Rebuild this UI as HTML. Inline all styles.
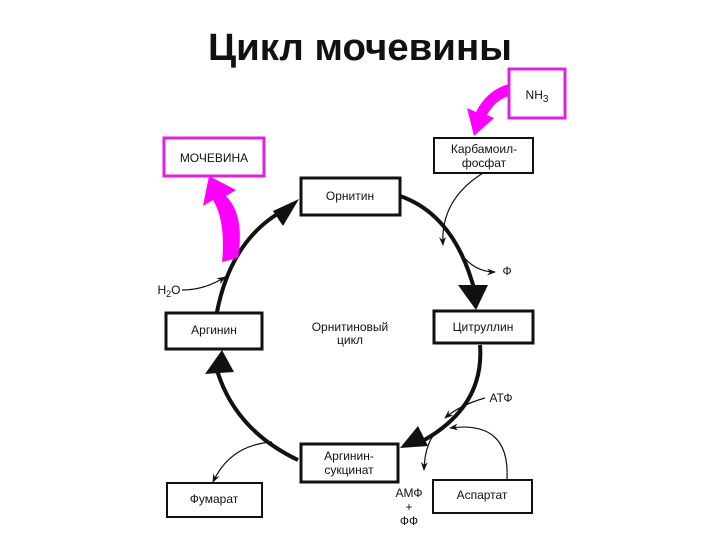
<!DOCTYPE html>
<html><head><meta charset="utf-8"><style>
html,body{margin:0;padding:0;background:#fff;width:720px;height:540px;overflow:hidden}
svg{display:block}
text{font-family:"Liberation Sans",sans-serif;fill:#111}
</style></head><body>
<svg width="720" height="540" viewBox="0 0 720 540">
<defs>
<marker id="sm" markerWidth="9" markerHeight="7" refX="8" refY="3.5" orient="auto" markerUnits="userSpaceOnUse"><path d="M0,0 L9,3.5 L0,7 L3,3.5 z" fill="#111"/></marker>
</defs>
<text x="360" y="60" font-size="38" font-weight="bold" text-anchor="middle" textLength="304" lengthAdjust="spacingAndGlyphs">Цикл мочевины</text>

<g fill="none" stroke="#111" stroke-width="4">
<path d="M400,196 Q455,215 475,292"/>
<path d="M480,345 Q485,410 415,445"/>
<path d="M298,460 Q235,430 217,370"/>
<path d="M217,312 Q232,235 290,207"/>
</g>
<g fill="#111">
<path d="M458,285 L488,285 L476,310 z"/>
<path d="M400,448 L418,426 L428,446 z"/>
<path d="M205,374 L222,350 L234,372 z"/>
<path d="M299,199 L273,211 L283,226 z"/>
</g>

<g fill="none" stroke="#111" stroke-width="1.2">
<path d="M483,173 Q440,200 443,245" marker-end="url(#sm)"/>
<path d="M462,255 Q475,272 495,272" marker-end="url(#sm)"/>
<path d="M182,290 Q205,290 225,277" marker-end="url(#sm)"/>
<path d="M485,398 Q460,405 445,418" marker-end="url(#sm)"/>
<path d="M507,479 Q510,420 450,428" marker-end="url(#sm)"/>
<path d="M440,428 Q425,440 424,470" marker-end="url(#sm)"/>
<path d="M272,442 Q230,445 213,482" marker-end="url(#sm)"/>
</g>

<g fill="#f0f" stroke="none">
<path d="M509,96 Q495,100 487,115 L494,118 L474,136 L467,108 L476,112 Q487,90 509,84 z"/>
<path d="M238,258 Q245,215 226,196 L236,190 L209,176 L203,206 L213,200 Q226,222 222,262 z"/>
</g>

<g fill="#fff">
<rect x="164" y="138" width="100" height="38" stroke="#e020e0" stroke-width="3"/>
<rect x="509" y="69" width="56" height="49" stroke="#e020e0" stroke-width="3"/>
<rect x="434" y="138" width="99" height="35" stroke="#111" stroke-width="2"/>
<rect x="301" y="178" width="99" height="37" stroke="#111" stroke-width="3"/>
<rect x="434" y="311" width="99" height="32" stroke="#111" stroke-width="3"/>
<rect x="166" y="313" width="96" height="36" stroke="#111" stroke-width="3"/>
<rect x="301" y="444" width="97" height="38" stroke="#111" stroke-width="3"/>
<rect x="167" y="483" width="95" height="34" stroke="#111" stroke-width="2"/>
<rect x="433" y="480" width="99" height="33" stroke="#111" stroke-width="2"/>
</g>

<g font-size="12" text-anchor="middle">
<text x="214" y="162">МОЧЕВИНА</text>
<text x="537" y="99">NH<tspan font-size="10" dy="3">3</tspan></text>
<text x="484" y="153">Карбамоил-</text>
<text x="484" y="167">фосфат</text>
<text x="350" y="200">Орнитин</text>
<text x="483" y="331">Цитруллин</text>
<text x="214" y="334">Аргинин</text>
<text x="349" y="460">Аргинин-</text>
<text x="349" y="474">сукцинат</text>
<text x="214" y="503">Фумарат</text>
<text x="482" y="499">Аспартат</text>
<text x="350" y="331">Орнитиновый</text>
<text x="350" y="344">цикл</text>
<text x="507" y="275">Ф</text>
<text x="169" y="294">H<tspan font-size="9" dy="3">2</tspan><tspan dy="-3">O</tspan></text>
<text x="501" y="402">АТФ</text>
<text x="409" y="497">АМФ</text>
<text x="409" y="511">+</text>
<text x="409" y="525">ФФ</text>
</g>
</svg>
</body></html>
